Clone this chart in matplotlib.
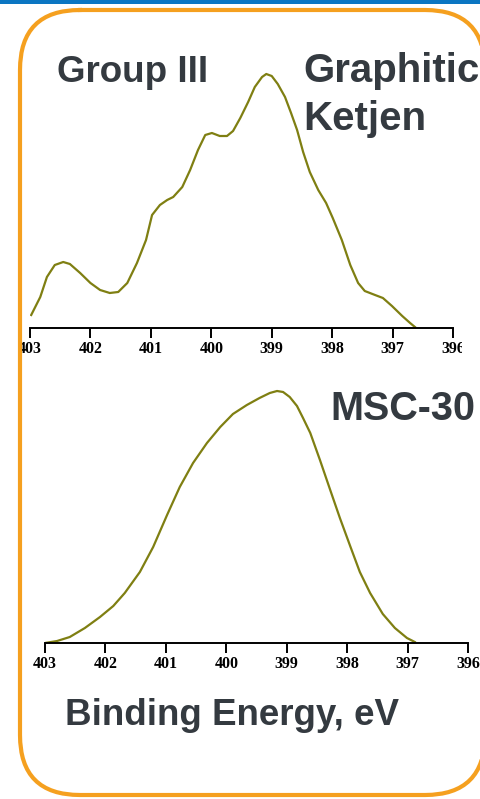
import numpy as np
import matplotlib
matplotlib.use("Agg")
import matplotlib.pyplot as plt
from matplotlib.patches import FancyBboxPatch, Rectangle
from matplotlib.transforms import Bbox

# N 1s XPS spectra, binding energy (eV) vs intensity (arb. units)
ketjen_be = [402.98, 402.83, 402.72, 402.59, 402.45, 402.34, 402.17, 402.0, 401.84, 401.68,
             401.54, 401.39, 401.23, 401.08, 400.98, 400.85, 400.73, 400.63, 400.48, 400.35,
             400.22, 400.10, 399.99, 399.86, 399.74, 399.64, 399.52, 399.39, 399.28, 399.16,
             399.09, 399.0, 398.9, 398.78, 398.68, 398.58, 398.48, 398.37, 398.23, 398.10,
             397.99, 397.84, 397.7, 397.57, 397.46, 397.29, 397.16, 397.01, 396.84, 396.71, 396.63]
ketjen_int = [13, 31, 51, 63, 66, 64, 55, 45, 38, 35,
              36, 45, 65, 88, 113, 123, 128, 131, 141, 158,
              178, 193, 195, 192, 192, 197, 210, 226, 241, 251,
              254, 252, 244, 231, 215, 198, 176, 156, 138, 125,
              110, 88, 63, 45, 37, 33, 30, 22, 12, 5, 1]

msc_be = [403.0, 402.80, 402.59, 402.34, 402.09, 401.87, 401.68, 401.43, 401.21, 400.98,
          400.77, 400.55, 400.32, 400.10, 399.89, 399.66, 399.45, 399.28, 399.16, 399.06,
          398.95, 398.83, 398.73, 398.61, 398.45, 398.28, 398.12, 397.95, 397.79, 397.62,
          397.41, 397.21, 397.01, 396.88]
msc_int = [0, 2, 6, 15, 26, 37, 50, 71, 96, 128,
           156, 180, 200, 216, 229, 238, 245, 250, 252, 251,
           246, 237, 225, 210, 183, 153, 125, 97, 71, 50,
           29, 15, 5, 1]

ticks = [403, 402, 401, 400, 399, 398, 397, 396]

W, H = 481, 799
line_col = "#7f7f12"
text_col = "#343a40"
orange = "#f5a01f"

fig = plt.figure(figsize=(W / 100, H / 100), dpi=100)
fig.patch.set_facecolor("white")

# overlay axes in pixel units (y down) for the frame, drawn on top
bg = fig.add_axes([0, 0, 1, 1], zorder=10)
bg.set_xlim(0, W)
bg.set_ylim(H, 0)
bg.axis("off")
bg.add_patch(Rectangle((0, 0), W, 4, facecolor="#0b76c2", edgecolor="none"))
frame = FancyBboxPatch((20, 10), 465, 785, boxstyle="round,pad=0,rounding_size=60")
outline = frame.get_path().to_polygons(closed_only=False)[0]   # curves -> segments
bg.plot(outline[:, 0], outline[:, 1], color=orange, lw=3.0, solid_joinstyle="round")


def px(x, y):   # pixel position (from top-left) -> figure fraction
    return x / W, 1 - y / H


def make_ax(left, axis_y, height, be, inten, clip_x):
    ax = fig.add_axes([left / W, (H - axis_y) / H, 423 / W, height / H])
    ax.plot(be, inten, color=line_col, lw=1.6)
    ax.set_xlim(403, 396)
    ax.set_ylim(0, height)
    ax.set_xticks(ticks)
    ax.set_xticklabels([str(t) for t in ticks], fontfamily="Liberation Serif",
                       fontweight="bold", fontsize=11.5)
    ax.tick_params(axis="x", direction="out", length=7.5, width=1.4, pad=2)
    ax.set_yticks([])
    for s in ["left", "right", "top"]:
        ax.spines[s].set_visible(False)
    ax.spines["bottom"].set_linewidth(1.4)
    ax.patch.set_alpha(0)
    # the source picture is cut off on both sides
    box = Bbox.from_extents(20, 0, clip_x, H)
    for lbl in ax.get_xticklabels():
        lbl.set_clip_on(True)
        lbl.set_clip_box(box)
    return ax


make_ax(30, 328, 300, ketjen_be, ketjen_int, 462)
make_ax(45, 643, 270, msc_be, msc_int, 481)

lab = dict(fontfamily="Liberation Sans", fontweight="bold", color=text_col,
           ha="left", va="baseline")
fig.text(*px(57, 82), "Group III", fontsize=26.5, **lab)
fig.text(*px(303, 82), "Graphitic", fontsize=29, **lab)
fig.text(*px(303, 130), "Ketjen", fontsize=29, **lab)
fig.text(*px(330, 420), "MSC-30", fontsize=28.5, **lab)
fig.text(*px(65, 725), "Binding Energy, eV", fontsize=26.5, **lab)

fig.savefig("out.png", dpi=100)
